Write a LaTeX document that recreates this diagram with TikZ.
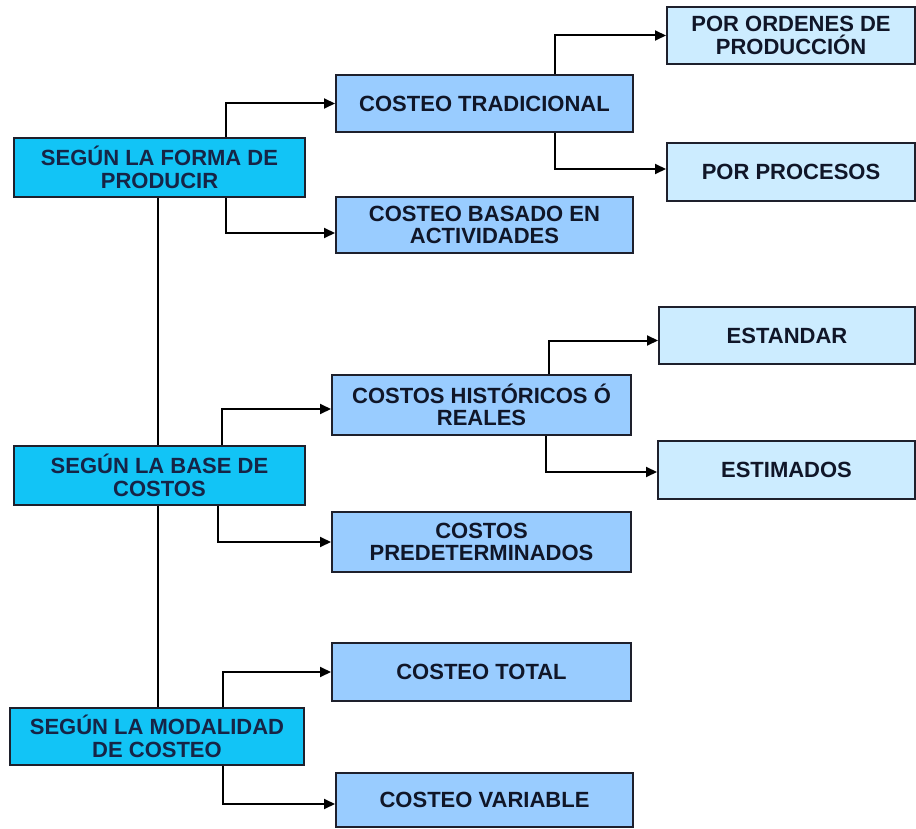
\documentclass[tikz,border=0pt]{standalone}
\usepackage{fontspec}
\setmainfont{Liberation Sans}
\usetikzlibrary{arrows.meta}
\definecolor{cyanbox}{RGB}{18,196,246}
\definecolor{midbox}{RGB}{153,204,255}
\definecolor{lightbox}{RGB}{204,236,255}
\definecolor{navytext}{RGB}{22,36,70}
\definecolor{darktext}{RGB}{16,22,40}
\definecolor{edge}{RGB}{30,32,44}
\tikzset{
  basebox/.style={draw=edge, line width=2pt, align=center, inner sep=0pt,
    font=\fontsize{22}{22.5}\selectfont\bfseries},
  leftbox/.style={basebox, fill=cyanbox, text=navytext},
  midnode/.style={basebox, fill=midbox, text=darktext},
  rightnode/.style={basebox, fill=lightbox, text=darktext},
  conn/.style={draw=black, line width=2pt},
  arr/.style={conn, -{Triangle[length=11pt,width=10pt]}}
}
\begin{document}
\begin{tikzpicture}[x=1pt,y=-1pt]
\useasboundingbox[fill=white] (0,0) rectangle (916,829);
% left column
\node[leftbox, minimum width=291, minimum height=59] (L1) at (159.5,167.5) {SEGÚN LA FORMA DE\\PRODUCIR};
\node[leftbox, minimum width=291, minimum height=59] (L2) at (159.5,475.5) {SEGÚN LA BASE DE\\COSTOS};
\node[leftbox, minimum width=294, minimum height=57] (L3) at (157,736.5) {SEGÚN LA MODALIDAD\\DE COSTEO};
% middle column
\node[midnode, minimum width=297, minimum height=57] (CT) at (484.5,103.5) {COSTEO TRADICIONAL};
\node[midnode, minimum width=297, minimum height=56] (CB) at (484.5,225) {COSTEO BASADO EN\\ACTIVIDADES};
\node[midnode, minimum width=299, minimum height=60] (CH) at (481.5,405) {COSTOS HISTÓRICOS Ó\\REALES};
\node[midnode, minimum width=299, minimum height=60] (CP) at (481.5,542) {COSTOS\\PREDETERMINADOS};
\node[midnode, minimum width=299, minimum height=58] (CTo) at (481.5,672) {COSTEO TOTAL};
\node[midnode, minimum width=297, minimum height=54] (CV) at (484.5,800) {COSTEO VARIABLE};
% right column
\node[rightnode, minimum width=248, minimum height=57] (PO) at (791,35.5) {POR ORDENES DE\\PRODUCCIÓN};
\node[rightnode, minimum width=248, minimum height=58] (PP) at (791,172) {POR PROCESOS};
\node[rightnode, minimum width=256, minimum height=57] (ES) at (787,335.5) {ESTANDAR};
\node[rightnode, minimum width=257, minimum height=58] (EM) at (786.5,470) {ESTIMADOS};
% branch x positions
\coordinate (t) at (158,0);
\coordinate (b1) at (226,0);
\coordinate (b2u) at (222,0);
\coordinate (b2d) at (218,0);
\coordinate (b3) at (223,0);
\coordinate (c1) at (555,0);
\coordinate (c2u) at (549,0);
\coordinate (c2d) at (546,0);
% trunk
\draw[conn] (L1.south -| t) -- (L2.north -| t);
\draw[conn] (L2.south -| t) -- (L3.north -| t);
% first group
\draw[arr] (L1.north -| b1) |- (CT.west);
\draw[arr] (L1.south -| b1) |- ([yshift=-8pt]CB.west);
\draw[arr] (CT.north -| c1) |- (PO.west);
\draw[arr] (CT.south -| c1) |- ([yshift=3pt]PP.west);
% second group
\draw[arr] (L2.north -| b2u) |- ([yshift=-4pt]CH.west);
\draw[arr] (L2.south -| b2d) |- (CP.west);
\draw[arr] (CH.north -| c2u) |- ([yshift=-5pt]ES.west);
\draw[arr] (CH.south -| c2d) |- ([yshift=-2pt]EM.west);
% third group
\draw[arr] (L3.north -| b3) |- (CTo.west);
\draw[arr] (L3.south -| b3) |- ([yshift=-4pt]CV.west);
\end{tikzpicture}
\end{document}
